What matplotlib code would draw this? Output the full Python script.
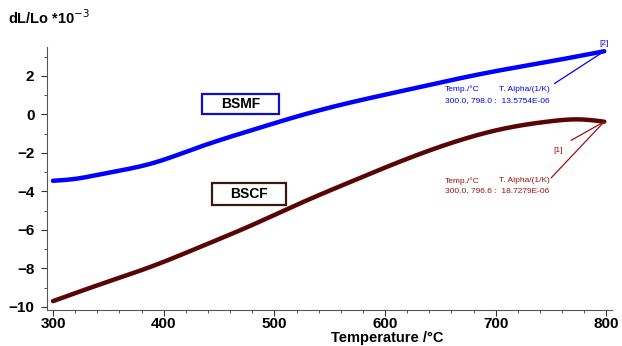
import numpy as np
import matplotlib
matplotlib.use('Agg')
import matplotlib.pyplot as plt
from matplotlib.patches import Rectangle
from matplotlib.ticker import MultipleLocator

plt.rcParams['font.family'] = ['Liberation Sans', 'DejaVu Sans']

# data
temp_bsmf = [300, 320, 344, 389, 434, 479, 524, 569, 614, 659, 704, 749, 798]
bsmf = [-3.45, -3.35, -3.1, -2.55, -1.66, -0.83, -0.05, 0.62, 1.2, 1.77, 2.29, 2.75, 3.28]
temp_bscf = [300, 344, 389, 434, 479, 524, 569, 614, 659, 704, 749, 776, 798]
bscf = [-9.7, -8.8, -7.9, -6.86, -5.77, -4.6, -3.5, -2.44, -1.5, -0.78, -0.36, -0.26, -0.38]

blue = '#0000ff'
brown = '#5a0505'
red_txt = '#a01010'


def spline(x, y, xs):
    # natural cubic spline through the read points
    x = np.asarray(x, float)
    y = np.asarray(y, float)
    n = len(x)
    h = np.diff(x)
    A = np.zeros((n, n))
    r = np.zeros(n)
    A[0, 0] = A[-1, -1] = 1
    for i in range(1, n - 1):
        A[i, i - 1] = h[i - 1]
        A[i, i] = 2 * (h[i - 1] + h[i])
        A[i, i + 1] = h[i]
        r[i] = 6 * ((y[i + 1] - y[i]) / h[i] - (y[i] - y[i - 1]) / h[i - 1])
    m = np.linalg.solve(A, r)
    idx = np.clip(np.searchsorted(x, xs) - 1, 0, n - 2)
    t = xs - x[idx]
    hi = h[idx]
    a = (m[idx + 1] - m[idx]) / (6 * hi)
    b = m[idx] / 2
    c = (y[idx + 1] - y[idx]) / hi - hi * (2 * m[idx] + m[idx + 1]) / 6
    return y[idx] + c * t + b * t ** 2 + a * t ** 3


fig = plt.figure(figsize=(6.22, 3.46), dpi=100)
ax = fig.add_axes([47/622, 36/346, 565/622, 263/346])

xs = np.linspace(300, 798, 300)
ax.plot(xs, spline(temp_bsmf, bsmf, xs), color=blue, lw=3.2, solid_capstyle='round')
ax.plot(xs, spline(temp_bscf, bscf, xs), color=brown, lw=3.2, solid_capstyle='round')

ax.set_xlim(294.6, 805)
ax.set_ylim(-10.16, 3.5)
ax.xaxis.set_major_locator(MultipleLocator(100))
ax.xaxis.set_minor_locator(MultipleLocator(20))
ax.yaxis.set_major_locator(MultipleLocator(2))
ax.yaxis.set_minor_locator(MultipleLocator(1))
for s in ['top', 'right']:
    ax.spines[s].set_visible(False)
for s in ['left', 'bottom']:
    ax.spines[s].set_color('#555555')
ax.tick_params(which='both', direction='out', color='#333333')
ax.tick_params(which='major', length=4, labelsize=11)
ax.tick_params(axis='y', pad=5)
ax.tick_params(axis='x', pad=1)
ax.tick_params(which='minor', length=2.5)
for lab in ax.get_xticklabels() + ax.get_yticklabels():
    lab.set_fontweight('bold')

fig.text(387/622, 1 - 338/346, 'Temperature /°C', fontsize=10.5, fontweight='bold',
         ha='center', va='center')
fig.text(8/622, 1 - 18/346, 'dL/Lo *10$^{-3}$', fontsize=10.5,
         fontweight='bold', ha='left', va='center')


# series labels in boxes (figure pixel coords, top-left origin)
def box_label(x0, y0, x1, y1, s, ec):
    fig.patches.append(Rectangle((x0, 346 - y1), x1 - x0, y1 - y0, transform=None,
                                 fc='white', ec=ec, lw=1.6, zorder=5))
    fig.text((x0 + x1) / 2 / 622, 1 - (y0 + y1) / 2 / 346, s, fontsize=10,
             fontweight='bold', ha='center', va='center', zorder=6)


box_label(202, 94, 279, 114, 'BSMF', '#1010c0')
box_label(212, 183, 286, 205, 'BSCF', '#3a1a10')

# measurement annotations
x_end = 798
ax.text(798, bsmf[-1] + 0.2, '[2]', color=blue, fontsize=6, ha='center', va='bottom')
ax.annotate('', xy=(x_end, bsmf[-1]), xytext=(753, 1.6),
            arrowprops=dict(arrowstyle='-', color=blue, lw=0.9, shrinkA=0, shrinkB=0))
ax.text(654, 1.3, 'Temp./°C', color=blue, fontsize=6, ha='left', va='center')
ax.text(703, 1.3, 'T. Alpha/(1/K)', color=blue, fontsize=6, ha='left', va='center')
ax.text(654, 0.72, '300.0, 798.0 :  13.5754E-06', color=blue, fontsize=6,
        ha='left', va='center')

ax.annotate('', xy=(x_end, bscf[-1]), xytext=(768, -1.35),
            arrowprops=dict(arrowstyle='-', color=red_txt, lw=0.9, shrinkA=0, shrinkB=0))
ax.annotate('', xy=(x_end, bscf[-1]), xytext=(750, -3.3),
            arrowprops=dict(arrowstyle='-', color=red_txt, lw=0.9, shrinkA=0, shrinkB=0))
ax.text(756, -1.85, '[1]', color=red_txt, fontsize=6, ha='center', va='center')
ax.text(654, -3.45, 'Temp./°C', color=red_txt, fontsize=6, ha='left', va='center')
ax.text(703, -3.45, 'T. Alpha/(1/K)', color=red_txt, fontsize=6, ha='left', va='center')
ax.text(654, -3.95, '300.0, 796.6 :  18.7279E-06', color=red_txt, fontsize=6,
        ha='left', va='center')

fig.savefig('out.png', dpi=100)
